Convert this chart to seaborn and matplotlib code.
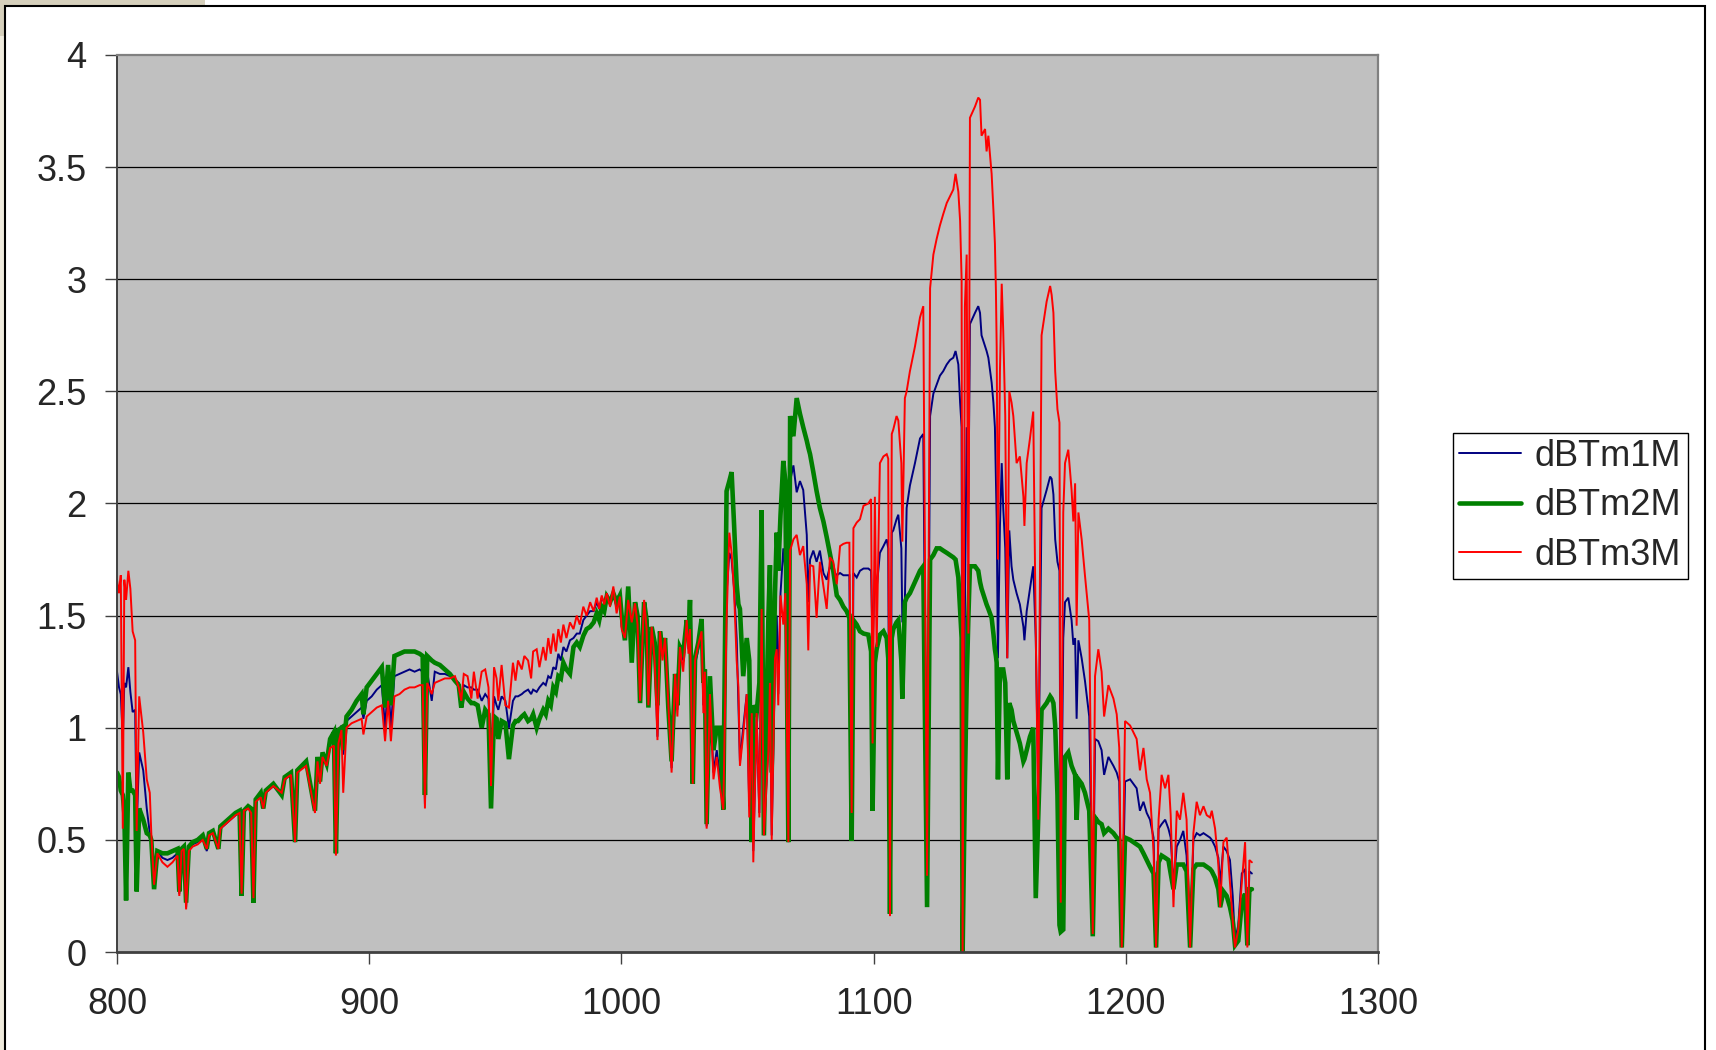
import matplotlib
matplotlib.use("Agg")
import matplotlib.pyplot as plt
from matplotlib.lines import Line2D
from matplotlib.patches import Rectangle
from matplotlib.ticker import FuncFormatter
import pandas as pd
import seaborn as sns

# Brightness-temperature differences by wavenumber (cm-1)
wavenumber = [
    800.0, 800.8, 801.5, 802.3, 802.9, 803.6, 804.5, 805.3, 806.2, 807.2,
    807.8, 808.8, 810.4, 811.8, 813.0, 813.6, 814.7, 816.0, 818.0, 820.0,
    822.0, 824.0, 824.7, 825.6, 826.5, 827.4, 828.5, 830.0, 832.0, 834.0,
    835.6, 836.5, 838.0, 840.2, 841.0, 844.0, 847.0, 848.6, 849.4, 850.3,
    852.0, 853.2, 854.1, 855.0, 857.0, 858.0, 859.0, 862.0, 865.3, 866.5,
    869.0, 870.6, 871.5, 875.0, 878.5, 879.5, 880.5, 881.5, 883.1, 884.5,
    886.0, 886.8, 887.8, 889.0, 889.7, 891.0, 893.0, 895.0, 897.0, 897.7,
    899.0, 901.0, 903.0, 905.0, 906.3, 907.5, 908.6, 910.0, 912.0, 914.0,
    916.0, 918.0, 920.0, 921.2, 922.1, 923.0, 924.8, 926.0, 928.0, 930.0,
    932.0, 934.0, 935.5, 936.5, 937.5, 939.0, 940.5, 941.5, 943.0, 944.6,
    946.0, 947.3, 948.3, 949.5, 950.5, 951.2, 952.5, 954.0, 955.4, 957.0,
    958.0, 959.0, 960.5, 961.5, 963.0, 964.2, 965.0, 966.4, 967.5, 969.0,
    970.0, 971.0, 972.0, 973.0, 974.0, 975.0, 976.0, 977.0, 978.2, 979.6,
    981.0, 982.3, 983.5, 984.9, 986.2, 987.6, 989.0, 990.2, 991.2, 992.2,
    993.2, 994.2, 995.5, 996.8, 998.1, 999.4, 1000.1, 1001.4, 1002.7, 1004.1,
    1005.4, 1006.4, 1007.4, 1009.0, 1010.0, 1010.7, 1012.0, 1013.2, 1014.3, 1015.3,
    1016.3, 1017.3, 1018.6, 1019.9, 1021.3, 1022.2, 1023.2, 1024.5, 1025.9, 1026.6,
    1027.2, 1028.3, 1029.2, 1030.5, 1031.8, 1032.5, 1033.1, 1033.8, 1035.1, 1036.5,
    1037.8, 1039.1, 1040.4, 1041.7, 1042.8, 1043.7, 1044.7, 1045.7, 1046.4, 1047.0,
    1048.3, 1049.7, 1050.7, 1051.7, 1052.3, 1053.6, 1054.7, 1055.6, 1056.5, 1058.3,
    1058.9, 1059.6, 1060.9, 1061.6, 1062.2, 1063.1, 1064.2, 1065.0, 1066.2, 1066.9,
    1068.2, 1069.5, 1070.8, 1072.1, 1073.5, 1074.1, 1074.8, 1076.1, 1077.4, 1078.7,
    1080.1, 1081.4, 1082.7, 1084.0, 1085.4, 1086.7, 1088.0, 1089.3, 1090.4, 1091.3,
    1092.0, 1093.3, 1094.6, 1096.0, 1097.9, 1099.0, 1099.6, 1100.5, 1101.2, 1102.5,
    1103.9, 1105.2, 1105.8, 1106.5, 1107.2, 1107.8, 1109.1, 1109.8, 1111.0, 1111.4,
    1112.4, 1113.1, 1114.4, 1116.4, 1118.4, 1119.7, 1121.2, 1122.4, 1123.7, 1125.0,
    1126.3, 1127.6, 1129.0, 1130.3, 1131.6, 1132.5, 1133.6, 1134.3, 1134.9, 1135.3,
    1136.2, 1136.9, 1137.6, 1138.2, 1140.2, 1141.5, 1142.2, 1142.8, 1144.2, 1144.8,
    1145.5, 1146.8, 1147.5, 1148.1, 1148.5, 1148.8, 1149.3, 1150.1, 1150.8, 1151.4,
    1152.2, 1153.0, 1153.8, 1154.7, 1155.4, 1156.7, 1158.0, 1159.4, 1159.8, 1160.7,
    1162.0, 1163.3, 1164.3, 1165.3, 1166.6, 1168.6, 1170.0, 1170.6, 1171.3, 1172.0,
    1172.9, 1173.7, 1174.2, 1175.2, 1175.9, 1177.2, 1178.5, 1179.2, 1179.9, 1180.5,
    1181.2, 1182.5, 1183.8, 1185.5, 1186.9, 1187.8, 1189.1, 1190.4, 1191.4, 1193.1,
    1195.1, 1196.4, 1197.4, 1198.4, 1199.7, 1201.7, 1203.0, 1204.3, 1205.6, 1207.0,
    1208.3, 1209.6, 1211.0, 1212.0, 1213.0, 1214.2, 1215.6, 1216.9, 1217.8, 1218.9,
    1220.2, 1221.5, 1222.8, 1224.1, 1225.5, 1226.8, 1228.1, 1229.4, 1230.8, 1232.1,
    1233.4, 1234.1, 1235.4, 1236.7, 1237.4, 1238.7, 1240.0, 1241.3, 1242.4, 1243.3,
    1244.6, 1246.0, 1247.3, 1248.2, 1249.0, 1250.0,
]

dbt_m1 = [
    1.25, 1.18, 1.15, 0.95, 1.20, 1.18, 1.27, 1.16, 1.07, 1.08,
    0.55, 0.89, 0.81, 0.64, 0.53, 0.50, 0.35, 0.45, 0.42, 0.41,
    0.42, 0.44, 0.26, 0.45, 0.46, 0.20, 0.46, 0.48, 0.49, 0.51,
    0.45, 0.52, 0.53, 0.46, 0.55, 0.58, 0.61, 0.62, 0.25, 0.63,
    0.65, 0.64, 0.23, 0.67, 0.70, 0.64, 0.71, 0.74, 0.70, 0.77,
    0.79, 0.49, 0.80, 0.84, 0.64, 0.86, 0.76, 0.88, 0.84, 0.95,
    0.96, 0.45, 0.97, 1.01, 0.88, 1.03, 1.05, 1.07, 1.09, 1.04,
    1.12, 1.14, 1.17, 1.19, 1.00, 1.21, 1.00, 1.23, 1.24, 1.25,
    1.26, 1.25, 1.26, 1.25, 0.66, 1.25, 1.12, 1.25, 1.24, 1.24,
    1.23, 1.21, 1.20, 1.12, 1.19, 1.18, 1.18, 1.17, 1.17, 1.12,
    1.15, 1.13, 0.85, 1.14, 1.10, 1.08, 1.14, 1.12, 1.00, 1.12,
    1.14, 1.14, 1.15, 1.16, 1.17, 1.15, 1.17, 1.16, 1.18, 1.20,
    1.19, 1.23, 1.22, 1.27, 1.26, 1.33, 1.30, 1.36, 1.34, 1.39,
    1.40, 1.42, 1.42, 1.48, 1.50, 1.52, 1.52, 1.56, 1.53, 1.58,
    1.56, 1.60, 1.55, 1.61, 1.53, 1.58, 1.45, 1.40, 1.58, 1.45,
    1.55, 1.45, 1.12, 1.55, 1.45, 1.10, 1.44, 1.35, 0.96, 1.42,
    1.32, 1.39, 1.10, 0.82, 1.22, 1.08, 1.35, 1.30, 1.47, 1.35,
    1.45, 0.76, 1.28, 1.35, 1.42, 1.10, 1.24, 0.56, 1.15, 0.80,
    0.90, 0.78, 0.64, 1.60, 1.78, 1.75, 1.62, 1.40, 1.10, 0.85,
    1.00, 1.15, 0.65, 0.95, 0.45, 1.05, 0.62, 1.50, 0.55, 0.92,
    1.30, 0.52, 1.30, 1.50, 1.15, 1.60, 1.80, 1.70, 0.49, 2.10,
    2.17, 2.05, 2.10, 2.06, 1.86, 1.56, 1.75, 1.79, 1.74, 1.79,
    1.69, 1.66, 1.72, 1.70, 1.68, 1.69, 1.68, 1.68, 1.68, 0.55,
    1.69, 1.67, 1.70, 1.71, 1.71, 1.70, 1.36, 1.70, 1.62, 1.78,
    1.81, 1.84, 1.80, 0.18, 1.87, 1.88, 1.93, 1.95, 1.80, 1.47,
    1.57, 1.98, 2.08, 2.18, 2.29, 2.31, 0.30, 2.39, 2.49, 2.53,
    2.57, 2.59, 2.62, 2.64, 2.65, 2.68, 2.62, 2.45, 2.34, 0.00,
    1.52, 2.34, 2.00, 2.80, 2.85, 2.88, 2.85, 2.75, 2.70, 2.68,
    2.65, 2.54, 2.45, 2.34, 2.10, 1.93, 1.31, 1.90, 2.18, 1.98,
    1.80, 1.31, 1.88, 1.72, 1.66, 1.60, 1.55, 1.45, 1.39, 1.52,
    1.62, 1.72, 1.40, 0.70, 1.98, 2.06, 2.12, 2.11, 2.04, 1.84,
    1.74, 1.70, 0.30, 1.40, 1.56, 1.58, 1.48, 1.37, 1.40, 1.04,
    1.39, 1.31, 1.21, 1.05, 0.10, 0.95, 0.94, 0.90, 0.79, 0.87,
    0.83, 0.80, 0.76, 0.03, 0.76, 0.77, 0.75, 0.73, 0.63, 0.67,
    0.62, 0.59, 0.51, 0.03, 0.55, 0.57, 0.59, 0.55, 0.51, 0.30,
    0.47, 0.50, 0.54, 0.43, 0.03, 0.50, 0.53, 0.52, 0.53, 0.52,
    0.51, 0.50, 0.47, 0.42, 0.30, 0.47, 0.45, 0.41, 0.25, 0.05,
    0.12, 0.35, 0.37, 0.05, 0.36, 0.35,
]

dbt_m2 = [
    0.80, 0.78, 0.72, 0.70, 0.62, 0.23, 0.80, 0.72, 0.72, 0.70,
    0.27, 0.64, 0.59, 0.53, 0.52, 0.50, 0.28, 0.45, 0.44, 0.44,
    0.45, 0.46, 0.27, 0.46, 0.47, 0.22, 0.47, 0.49, 0.50, 0.52,
    0.46, 0.53, 0.54, 0.46, 0.56, 0.59, 0.62, 0.63, 0.25, 0.63,
    0.65, 0.64, 0.22, 0.68, 0.71, 0.64, 0.72, 0.75, 0.70, 0.78,
    0.80, 0.49, 0.81, 0.85, 0.63, 0.87, 0.76, 0.89, 0.84, 0.95,
    0.98, 0.44, 0.99, 1.00, 0.90, 1.05, 1.08, 1.12, 1.15, 1.06,
    1.18, 1.21, 1.24, 1.27, 1.09, 1.28, 1.10, 1.32, 1.33, 1.34,
    1.34, 1.34, 1.33, 1.32, 0.70, 1.32, 1.30, 1.29, 1.28, 1.26,
    1.24, 1.21, 1.19, 1.09, 1.16, 1.13, 1.11, 1.11, 1.10, 1.00,
    1.08, 1.06, 0.64, 1.05, 1.04, 0.95, 1.03, 1.02, 0.86, 1.01,
    1.03, 1.03, 1.05, 1.06, 1.03, 1.04, 1.06, 1.00, 1.04, 1.08,
    1.06, 1.12, 1.10, 1.18, 1.16, 1.23, 1.22, 1.29, 1.26, 1.24,
    1.36, 1.38, 1.36, 1.41, 1.44, 1.45, 1.47, 1.51, 1.48, 1.54,
    1.52, 1.585, 1.56, 1.60, 1.56, 1.59, 1.50, 1.39, 1.63, 1.29,
    1.56, 1.50, 1.11, 1.56, 1.48, 1.09, 1.45, 1.38, 1.10, 1.43,
    1.34, 1.40, 1.09, 0.85, 1.24, 1.10, 1.36, 1.33, 1.48, 1.40,
    1.57, 0.75, 1.31, 1.38, 1.485, 1.20, 1.26, 0.57, 1.23, 0.90,
    1.00, 1.00, 0.635, 2.055, 2.10, 2.14, 1.90, 1.64, 1.55, 1.53,
    1.23, 1.40, 1.30, 0.49, 1.10, 1.065, 1.20, 1.97, 0.52, 1.50,
    1.725, 0.80, 1.60, 1.87, 1.70, 1.95, 2.19, 2.10, 0.49, 2.39,
    2.30, 2.47, 2.40, 2.34, 2.28, 2.25, 2.22, 2.14, 2.055, 1.98,
    1.92, 1.85, 1.775, 1.70, 1.59, 1.57, 1.54, 1.52, 1.49, 0.495,
    1.48, 1.46, 1.43, 1.42, 1.415, 1.34, 0.63, 1.29, 1.35, 1.415,
    1.43, 1.40, 1.31, 0.17, 1.40, 1.44, 1.47, 1.48, 1.30, 1.13,
    1.56, 1.58, 1.60, 1.65, 1.70, 1.72, 0.20, 1.75, 1.77, 1.80,
    1.80, 1.79, 1.78, 1.77, 1.76, 1.75, 1.67, 1.52, 1.40, 0.00,
    0.75, 1.20, 1.50, 1.72, 1.72, 1.70, 1.65, 1.62, 1.57, 1.55,
    1.53, 1.49, 1.42, 1.35, 1.32, 1.29, 0.77, 1.26, 1.26, 1.26,
    1.20, 0.77, 1.11, 1.08, 1.03, 0.98, 0.93, 0.85, 0.86, 0.90,
    0.96, 1.00, 0.24, 0.60, 1.08, 1.11, 1.14, 1.13, 1.11, 1.01,
    0.70, 0.12, 0.09, 0.10, 0.87, 0.89, 0.83, 0.81, 0.79, 0.59,
    0.77, 0.75, 0.71, 0.63, 0.07, 0.60, 0.58, 0.57, 0.53, 0.55,
    0.53, 0.51, 0.50, 0.02, 0.51, 0.50, 0.49, 0.48, 0.47, 0.44,
    0.41, 0.38, 0.35, 0.02, 0.40, 0.43, 0.42, 0.41, 0.35, 0.28,
    0.39, 0.39, 0.39, 0.36, 0.02, 0.37, 0.39, 0.39, 0.39, 0.38,
    0.37, 0.36, 0.33, 0.28, 0.20, 0.27, 0.25, 0.20, 0.14, 0.03,
    0.05, 0.22, 0.26, 0.03, 0.28, 0.28,
]

dbt_m3 = [
    1.66, 1.60, 1.68, 0.55, 1.66, 1.57, 1.70, 1.62, 1.43, 1.39,
    0.54, 1.14, 0.98, 0.77, 0.71, 0.53, 0.30, 0.44, 0.40, 0.38,
    0.40, 0.43, 0.25, 0.45, 0.46, 0.19, 0.45, 0.47, 0.48, 0.50,
    0.46, 0.52, 0.53, 0.46, 0.55, 0.58, 0.61, 0.62, 0.26, 0.63,
    0.64, 0.62, 0.24, 0.67, 0.69, 0.64, 0.71, 0.74, 0.71, 0.77,
    0.79, 0.49, 0.80, 0.83, 0.62, 0.85, 0.75, 0.87, 0.83, 0.91,
    0.92, 0.43, 0.93, 0.99, 0.71, 1.00, 1.02, 1.03, 1.04, 0.97,
    1.05, 1.07, 1.09, 1.10, 0.94, 1.12, 0.94, 1.14, 1.15, 1.17,
    1.18, 1.18, 1.19, 1.19, 0.64, 1.20, 1.15, 1.20, 1.21, 1.22,
    1.22, 1.23, 1.18, 1.12, 1.24, 1.23, 1.13, 1.25, 1.13, 1.25,
    1.26, 1.18, 0.74, 1.27, 1.22, 1.12, 1.28, 1.10, 1.09, 1.29,
    1.21, 1.30, 1.26, 1.32, 1.30, 1.22, 1.34, 1.35, 1.27, 1.36,
    1.30, 1.40, 1.33, 1.42, 1.34, 1.44, 1.38, 1.46, 1.40, 1.47,
    1.44, 1.50, 1.46, 1.54, 1.50, 1.56, 1.52, 1.58, 1.53, 1.59,
    1.55, 1.60, 1.54, 1.63, 1.51, 1.585, 1.44, 1.40, 1.57, 1.47,
    1.555, 1.46, 1.12, 1.57, 1.44, 1.10, 1.45, 1.30, 0.945, 1.43,
    1.30, 1.40, 1.11, 0.80, 1.24, 1.05, 1.36, 1.25, 1.48, 1.33,
    1.44, 0.75, 1.30, 1.37, 1.43, 1.065, 1.25, 0.55, 1.15, 0.77,
    0.87, 0.73, 0.635, 1.48, 1.87, 1.78, 1.60, 1.30, 1.18, 0.83,
    0.97, 1.15, 0.60, 1.065, 0.40, 1.065, 0.60, 1.53, 0.52, 0.90,
    1.20, 0.50, 1.31, 1.35, 1.10, 1.59, 1.46, 1.60, 0.49, 1.79,
    1.84, 1.86, 1.77, 1.81, 1.64, 1.345, 1.725, 1.72, 1.49, 1.74,
    1.63, 1.53, 1.76, 1.74, 1.64, 1.81, 1.82, 1.825, 1.825, 0.62,
    1.89, 1.915, 1.93, 1.99, 2.00, 2.02, 0.93, 2.03, 1.36, 2.18,
    2.21, 2.22, 2.20, 0.16, 2.31, 2.33, 2.39, 2.37, 2.18, 1.83,
    2.47, 2.50, 2.59, 2.70, 2.83, 2.88, 0.34, 2.96, 3.11, 3.18,
    3.24, 3.29, 3.34, 3.37, 3.40, 3.47, 3.39, 3.26, 3.00, 0.00,
    2.88, 3.11, 1.42, 3.72, 3.77, 3.81, 3.80, 3.64, 3.67, 3.57,
    3.64, 3.47, 3.31, 3.16, 2.95, 2.70, 1.75, 2.59, 2.98, 2.77,
    2.39, 1.31, 2.50, 2.45, 2.39, 2.18, 2.21, 2.03, 1.90, 2.18,
    2.29, 2.41, 1.42, 0.59, 2.75, 2.90, 2.97, 2.93, 2.85, 2.59,
    2.42, 2.36, 0.22, 1.96, 2.18, 2.24, 2.06, 1.92, 2.09, 1.455,
    1.96, 1.84, 1.68, 1.48, 0.08, 1.23, 1.35, 1.25, 1.05, 1.19,
    1.13, 1.06, 0.91, 0.02, 1.03, 1.01, 0.98, 0.95, 0.81, 0.91,
    0.77, 0.71, 0.45, 0.02, 0.59, 0.79, 0.73, 0.79, 0.61, 0.20,
    0.63, 0.59, 0.71, 0.59, 0.02, 0.53, 0.67, 0.61, 0.65, 0.61,
    0.60, 0.63, 0.55, 0.39, 0.20, 0.49, 0.51, 0.31, 0.14, 0.02,
    0.10, 0.31, 0.49, 0.02, 0.41, 0.40,
]

series_names = ["dBTm1M", "dBTm2M", "dBTm3M"]
series_colors = ["#000080", "#008000", "#FF0000"]
series_widths = [1.4, 3.3, 1.4]

x_ticks = [800, 900, 1000, 1100, 1200, 1300]
y_ticks = [0, 0.5, 1, 1.5, 2, 2.5, 3, 3.5, 4]

df = pd.DataFrame({
    "wavenumber": wavenumber,
    "dBTm1M": dbt_m1,
    "dBTm2M": dbt_m2,
    "dBTm3M": dbt_m3,
})

sns.set_style("white")
plt.rcParams["font.family"] = ["Liberation Sans", "DejaVu Sans"]

W, H = 1716, 1050
fig = plt.figure(figsize=(W / 100, H / 100), dpi=100)
fig.patch.set_facecolor("white")

# plot area in pixel terms
left, right, top, bottom = 117, 1378, 55, 952
ax = fig.add_axes([left / W, 1 - bottom / H, (right - left) / W, (bottom - top) / H])
ax.set_facecolor("#C0C0C0")

for name, col, lw in zip(series_names, series_colors, series_widths):
    sns.lineplot(data=df, x="wavenumber", y=name, color=col, linewidth=lw,
                 estimator=None, sort=False, ax=ax, legend=False,
                 solid_joinstyle="miter")

ax.set_xlim(800, 1300)
ax.set_ylim(0, 4)
ax.set_xticks(x_ticks)
ax.set_yticks(y_ticks)
ax.yaxis.set_major_formatter(FuncFormatter(lambda v, p: f"{v:g}"))
ax.set_xlabel("")
ax.set_ylabel("")

ax.grid(False)
for yv in y_ticks[1:-1]:
    ax.axhline(yv, color="black", lw=0.9, zorder=0.5)

ax.spines["left"].set_color("#404040")
ax.spines["left"].set_linewidth(1.4)
ax.spines["bottom"].set_color("#404040")
ax.spines["bottom"].set_linewidth(2.0)
ax.spines["top"].set_color("#808080")
ax.spines["top"].set_linewidth(1.6)
ax.spines["right"].set_color("#808080")
ax.spines["right"].set_linewidth(1.6)

ax.tick_params(axis="y", direction="out", length=8.5, width=1.0, color="#404040",
               labelsize=26, pad=13.5, left=True)
ax.tick_params(axis="x", direction="out", length=8.5, width=1.0, color="#404040",
               labelsize=26, pad=17, bottom=True)

handles = [Line2D([0], [0], color=c, lw=w) for c, w in zip(series_colors, series_widths)]
leg = ax.legend(handles, series_names, loc="center left",
                bbox_to_anchor=(1453 / W, 1 - 506 / H), bbox_transform=fig.transFigure,
                frameon=True, fancybox=False, edgecolor="black", framealpha=1,
                fontsize=26, handlelength=1.72, handletextpad=0.38,
                labelspacing=0.4, borderpad=0.17, borderaxespad=0)
leg.get_frame().set_linewidth(1.0)

# outer chart frame and the strip around it
fig.add_artist(Rectangle((0, 0), 5 / W, 1, transform=fig.transFigure,
                         facecolor="#EFEBDD", edgecolor="none"))
fig.add_artist(Rectangle((0, 1 - 36 / H), 5 / W, 36 / H, transform=fig.transFigure,
                         facecolor="#D6D0BC", edgecolor="none"))
fig.add_artist(Rectangle((0, 1 - 6 / H), 205 / W, 6 / H, transform=fig.transFigure,
                         facecolor="#D6D0BC", edgecolor="none"))
fig.add_artist(Rectangle((5 / W, -0.05), 1700 / W, 1.05 - 6 / H,
                         transform=fig.transFigure, fill=False,
                         edgecolor="black", linewidth=1.5))

fig.savefig("out.png", dpi=100, facecolor="white")
